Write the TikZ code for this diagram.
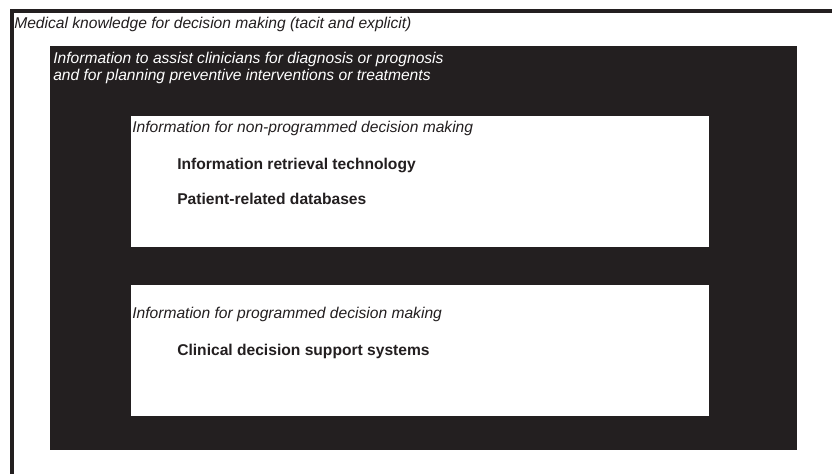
\documentclass[tikz,border=0pt]{standalone}
\usepackage{fontspec}
\setmainfont{Liberation Sans}
\usepackage{xcolor}
\definecolor{panel}{HTML}{231F20}
\newcommand{\diagfont}{\fontsize{11.1}{12.1}\selectfont}
\tikzset{
  heading/.style={anchor=base west,inner sep=0pt,text=panel,font=\diagfont\itshape},
  entry/.style={anchor=base west,inner sep=0pt,text=panel,font=\diagfont\bfseries}
}

\begin{document}
\begin{tikzpicture}
\useasboundingbox (0,0) rectangle (20.8,-11.825);
\clip (0,0) rectangle (20.8,-11.825);
\fill[white] (0,0) rectangle (20.8,-11.825);
% outer frame runs off the page to the right and bottom
\draw[panel,line width=0.1cm] (0.29,-0.275) rectangle (21.5,-12.5);
\fill[panel] (1.25,-1.15) rectangle (19.925,-11.25);
\fill[white] (3.275,-2.9) rectangle (17.725,-6.175);
\fill[white] (3.275,-7.125) rectangle (17.725,-10.4);

\draw (0.35,-0.7) node[heading] (Knowledge) {Medical knowledge for decision making (tacit and explicit)};
	\draw (1.325,-1.575) node[heading,text=white] (Assist) {Information to assist clinicians for diagnosis or prognosis};
	\draw (1.325,-2.0) node[heading,text=white] (Planning) {and for planning preventive interventions or treatments};
		\draw (3.3,-3.3) node[heading] (NonProg) {Information for non-programmed decision making};
			\draw (4.425,-4.225) node[entry] (Retrieval) {Information retrieval technology};
			\draw (4.425,-5.1) node[entry] (Databases) {Patient-related databases};
		\draw (3.3,-7.95) node[heading] (Prog) {Information for programmed decision making};
			\draw (4.425,-8.875) node[entry] (Support) {Clinical decision support systems};
\end{tikzpicture}
\end{document}
